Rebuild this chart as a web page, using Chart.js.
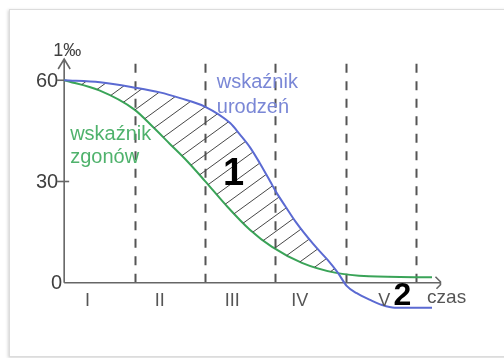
<!DOCTYPE html>
<html><head><meta charset="utf-8">
<script src="https://cdn.jsdelivr.net/npm/chart.js@4"></script>
<style>
html,body{margin:0;padding:0;background:#fff;}
#wrap{position:relative;width:504px;height:358px;overflow:hidden;background:#fff;}
#frame{position:absolute;left:9px;top:9px;width:540px;height:346px;border:1px solid #dcdcdc;box-shadow:-1px 1px 3px rgba(0,0,0,0.18);background:#fff;}
canvas{position:absolute;left:0;top:0;}
</style></head><body>
<div id="wrap"><div id="frame"></div><canvas id="c" width="504" height="358"></canvas></div>
<script>
// ---- data ----
const birthX    = [0, 0.51, 1.01, 1.36, 1.65, 2.0, 2.36, 2.5, 2.64, 2.78, 2.93, 3.01, 3.14, 3.30, 3.54, 3.74, 3.89, 4.02, 4.16, 4.35, 4.52, 4.70, 5.23];
const birthRate = [60, 59.4, 57.8, 56.4, 54.7, 52.2, 47.3, 43.9, 40.2, 35.5, 30.0, 27.0, 22.8, 17.8, 11.5, 6.9, 3.0, -1.0, -3.1, -5.1, -6.6, -7.4, -7.4];
const deathX    = [0, 0.5, 1.0, 1.26, 1.5, 1.75, 2.0, 2.3, 2.64, 2.95, 3.38, 3.85, 4.33, 5.23];
const deathRate = [60, 57.0, 51.3, 46.2, 41.2, 36.0, 30.2, 23.0, 15.7, 10.7, 5.9, 3.0, 1.9, 1.6];
const yTicks = [0, 30, 60];
const stageBounds = [1, 2, 3, 4, 5];
const stageLabels = ['I', 'II', 'III', 'IV', 'V'];
const stageCenters = [0.33, 1.36, 2.39, 3.35, 4.55];
const yTitle = '1‰';
const xTitle = 'czas';
const birthLabel = ['wskaźnik', 'urodzeń'];
const deathLabel = ['wskaźnik', 'zgonów'];
const marks = ['1', '2'];

const FONT = '"Liberation Sans", Arial, sans-serif';

function hatchPattern() {
  const w = 22, h = 16;
  const c = document.createElement('canvas');
  c.width = w; c.height = h;
  const g = c.getContext('2d');
  g.strokeStyle = '#474747';
  g.lineWidth = 1;
  for (const off of [-h, 0, h]) {
    g.beginPath();
    g.moveTo(-w, h + off + h);
    g.lineTo(2 * w, off - h);
    g.stroke();
  }
  return g.createPattern(c, 'repeat');
}

const decor = {
  id: 'decor',
  beforeDatasetsDraw(chart) {
    const ctx = chart.ctx, xs = chart.scales.x, ys = chart.scales.y;
    const x0 = xs.getPixelForValue(0), y0 = ys.getPixelForValue(0);
    ctx.save();
    ctx.strokeStyle = '#555';
    ctx.lineWidth = 2;
    ctx.setLineDash([9, 8.5]);
    const yTop = ys.getPixelForValue(65);
    stageBounds.forEach(b => {
      const px = Math.round(xs.getPixelForValue(b)) + 0.5;
      ctx.beginPath(); ctx.moveTo(px, y0); ctx.lineTo(px, yTop); ctx.stroke();
    });
    ctx.setLineDash([]);
    ctx.strokeStyle = '#666';
    ctx.lineWidth = 1.6;
    const yArrow = ys.getPixelForValue(66.3);
    const xEnd = xs.getPixelForValue(5.35);
    ctx.beginPath();
    ctx.moveTo(x0, y0); ctx.lineTo(x0, yArrow);
    ctx.moveTo(x0 - 6, yArrow + 10); ctx.lineTo(x0, yArrow); ctx.lineTo(x0 + 6, yArrow + 10);
    ctx.moveTo(x0, y0); ctx.lineTo(xEnd, y0);
    ctx.moveTo(xEnd - 5, y0 - 6); ctx.lineTo(xEnd, y0 - 1); ctx.lineTo(xEnd, y0 + 2); ctx.lineTo(xEnd - 4, y0 + 6);
    ctx.stroke();
    yTicks.forEach(t => {
      const py = ys.getPixelForValue(t);
      if (t !== 0) {
        ctx.beginPath();
        ctx.moveTo(x0 - 7, py); ctx.lineTo(t === 30 ? x0 + 5 : x0, py);
        ctx.stroke();
      }
    });
    ctx.restore();
  },
  afterDatasetsDraw(chart) {
    const ctx = chart.ctx, xs = chart.scales.x, ys = chart.scales.y;
    const X = v => xs.getPixelForValue(v), Y = v => ys.getPixelForValue(v);
    const x0 = X(0);
    ctx.save();
    ctx.fillStyle = '#404040';
    ctx.font = '20px ' + FONT;
    ctx.textAlign = 'right';
    ctx.textBaseline = 'middle';
    yTicks.forEach(t => ctx.fillText(String(t), x0 - (t === 0 ? 2 : 6), Y(t) + 1));
    ctx.textAlign = 'center';
    ctx.textBaseline = 'alphabetic';
    ctx.font = '18px ' + FONT;
    ctx.fillText(yTitle, x0 + 3, 56);
    ctx.fillStyle = '#555';
    ctx.font = '18px ' + FONT;
    stageLabels.forEach((s, i) => ctx.fillText(s, X(stageCenters[i]), Y(0) + 23));
    ctx.textAlign = 'left';
    ctx.font = '19px ' + FONT;
    ctx.fillStyle = '#555';
    ctx.fillText(xTitle, X(5.16), Y(0) + 20);
    ctx.font = '20px ' + FONT;
    ctx.fillStyle = '#7a87d6';
    ctx.fillText(birthLabel[0], X(2.17), 88);
    ctx.fillText(birthLabel[1], X(2.17), 113);
    ctx.fillStyle = '#4fb26c';
    ctx.fillText(deathLabel[0], X(0.085), 140);
    ctx.fillText(deathLabel[1], X(0.085), 163);
    ctx.fillStyle = '#000';
    ctx.textAlign = 'center';
    ctx.font = 'bold 38px ' + FONT;
    ctx.fillText(marks[0], X(2.41), 185);
    ctx.font = 'bold 32px ' + FONT;
    ctx.fillText(marks[1], X(4.81), 305);
    ctx.restore();
  }
};

const ctx = document.getElementById('c').getContext('2d');
new Chart(ctx, {
  type: 'line',
  data: {
    datasets: [
      {
        label: birthLabel.join(' '),
        data: birthX.map((x, i) => ({ x, y: birthRate[i] })),
        borderColor: '#5b6ad2',
        borderWidth: 2,
        pointRadius: 0,
        cubicInterpolationMode: 'monotone',
        fill: { target: 1, above: hatchPattern(), below: 'rgba(0,0,0,0)' }
      },
      {
        label: deathLabel.join(' '),
        data: deathX.map((x, i) => ({ x, y: deathRate[i] })),
        borderColor: '#3aa458',
        borderWidth: 2,
        pointRadius: 0,
        cubicInterpolationMode: 'monotone',
        fill: false
      }
    ]
  },
  options: {
    responsive: false,
    animation: false,
    devicePixelRatio: 1,
    layout: { padding: { left: 29, right: 53, top: 60, bottom: 28 } },
    plugins: { legend: { display: false }, tooltip: { enabled: false } },
    scales: {
      x: { type: 'linear', min: -0.5, max: 5.5, display: false },
      y: { min: -14, max: 66, display: false }
    }
  },
  plugins: [decor]
});
</script>
</body></html>
